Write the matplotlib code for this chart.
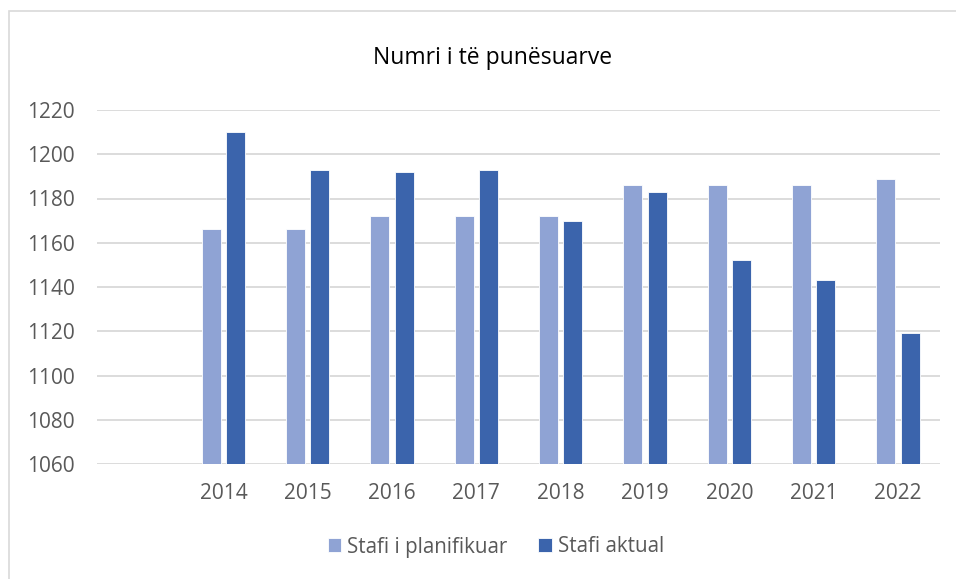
import matplotlib
matplotlib.use("Agg")
import matplotlib.pyplot as plt
import numpy as np
from matplotlib.patches import Rectangle

categories = ["", "2014", "2015", "2016", "2017", "2018", "2019", "2020", "2021", "2022"]
planned = [np.nan, 1166, 1166, 1172, 1172, 1172, 1186, 1186, 1186, 1189]
actual = [np.nan, 1210, 1193, 1192, 1193, 1170, 1183, 1152, 1143, 1119]
series_names = ["Stafi i planifikuar", "Stafi aktual"]
yticks = [1060, 1080, 1100, 1120, 1140, 1160, 1180, 1200, 1220]

plt.rcParams['font.family'] = ['Open Sans', 'DejaVu Sans']

W, H = 956, 579
fig = plt.figure(figsize=(W / 100, H / 100), dpi=100)
ax = fig.add_axes([97 / W, 1 - 464 / H, (940 - 97) / W, (464 - 110) / H])

x = np.arange(len(categories))
bw = 0.225
off = 0.145
c1, c2 = "#8FA3D4", "#3B64AC"
base = yticks[0]
p = np.array(planned, dtype=float)
a = np.array(actual, dtype=float)
ax.bar(x - off, p - base, bw, bottom=base, color=c1, edgecolor="white", linewidth=0.6, label=series_names[0], zorder=3)
ax.bar(x + off, a - base, bw, bottom=base, color=c2, edgecolor="white", linewidth=0.6, label=series_names[1], zorder=3)

ax.set_xlim(-0.5, len(categories) - 0.5)
ax.set_ylim(yticks[0], yticks[-1])
ax.set_yticks(yticks)
ax.set_xticks(x)
ax.set_xticklabels(categories)
ax.grid(axis="y", color="#D9D9D9", linewidth=1.3, zorder=0)
for s in ax.spines.values():
    s.set_visible(False)
ax.tick_params(axis="both", length=0, labelsize=15, colors="#595959")
ax.tick_params(axis="x", pad=14)
ax.tick_params(axis="y", pad=16)
ax.set_axisbelow(True)

fig.text(493 / W, 1 - 58 / H, "Numri i të punësuarve", ha="center", va="center", fontsize=16.5, color="#000000")

leg = fig.legend(loc="center", bbox_to_anchor=(496 / W, 1 - 547 / H), ncol=2, frameon=False,
                 fontsize=14.8, handlelength=0.65, handleheight=0.65, columnspacing=1.5, handletextpad=0.3)
for t in leg.get_texts():
    t.set_color("#595959")

fig.patches.append(Rectangle((9 / W, -0.1), 1.2, 1 - 11 / H + 0.1, transform=fig.transFigure,
                             fill=False, edgecolor="#D9D9D9", linewidth=1.2))

fig.savefig("out.png", dpi=100)
